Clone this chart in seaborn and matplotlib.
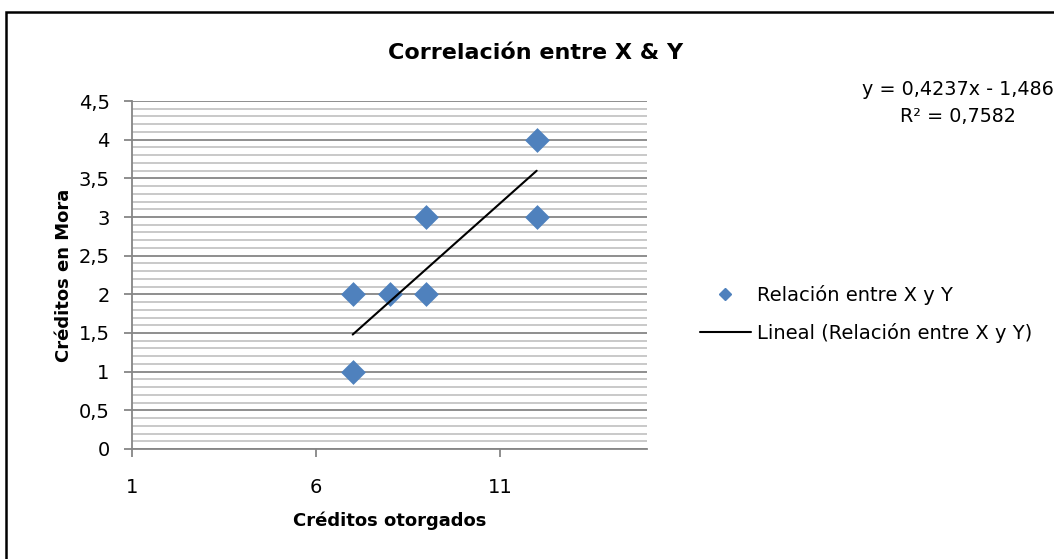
import matplotlib
matplotlib.use("Agg")
import matplotlib.pyplot as plt
from matplotlib.lines import Line2D
from matplotlib.patches import Rectangle
from matplotlib.ticker import MultipleLocator, FuncFormatter
import numpy as np
import pandas as pd
import seaborn as sns

# Data
creditos_otorgados = [7, 7, 8, 9, 9, 12, 12]
creditos_en_mora = [1, 2, 2, 2, 3, 3, 4]
trend_slope = 0.4237
trend_intercept = -1.486
r_squared = 0.7582

serie_label = "Relación entre X y Y"
trend_label = "Lineal (Relación entre X y Y)"

sns.set_theme(style="white")
plt.rcParams["font.family"] = ["DejaVu Sans"]
plt.rcParams["text.color"] = "black"
plt.rcParams["axes.labelcolor"] = "black"
plt.rcParams["xtick.color"] = "black"
plt.rcParams["ytick.color"] = "black"

df = pd.DataFrame({"x": creditos_otorgados, "y": creditos_en_mora})

fig = plt.figure(figsize=(10.54, 5.59), dpi=100)
ax = fig.add_axes([0.1252, 0.1968, 0.4887, 0.6225])

blue = "#4F81BD"
major_grid = "#868686"
minor_grid = "#C0C0C0"

ax.set_xlim(1, 15)
ax.set_ylim(0, 4.5)
ax.yaxis.set_major_locator(MultipleLocator(0.5))
ax.yaxis.set_minor_locator(MultipleLocator(0.1))
ax.set_xticks([1, 6, 11])

ax.grid(which="minor", axis="y", color=minor_grid, linewidth=1.2, zorder=0)
ax.grid(which="major", axis="y", color=major_grid, linewidth=1.3, zorder=0)
ax.grid(which="both", axis="x", visible=False)
ax.set_axisbelow(True)

sns.scatterplot(data=df, x="x", y="y", ax=ax, marker="D", s=160,
                color=blue, edgecolor=blue, linewidth=0, zorder=3, legend=False)

# Linear trendline over the data range
xt = np.array([min(creditos_otorgados), max(creditos_otorgados)])
ax.plot(xt, trend_slope * xt + trend_intercept, color="black", linewidth=1.5, zorder=4)

for side in ["top", "right"]:
    ax.spines[side].set_visible(False)
for side in ["left", "bottom"]:
    ax.spines[side].set_color(major_grid)
    ax.spines[side].set_linewidth(1.3)

comma = FuncFormatter(lambda v, p: (f"{v:g}").replace(".", ","))
ax.yaxis.set_major_formatter(comma)
ax.xaxis.set_major_formatter(comma)
ax.tick_params(axis="y", which="major", left=True, length=6, width=1.3,
               color=major_grid, labelcolor="black", labelsize=14, pad=10)
ax.tick_params(axis="y", which="minor", left=False)
ax.tick_params(axis="x", which="major", bottom=True, length=6, width=1.3,
               color=major_grid, labelcolor="black", labelsize=14, pad=15)

ax.set_xlabel("Créditos otorgados", fontsize=13, fontweight="bold", labelpad=10)
ax.set_ylabel("Créditos en Mora", fontsize=13, fontweight="bold", labelpad=4)

fig.text(536 / 1054, 1 - 53 / 559, "Correlación entre X & Y", ha="center",
         va="center", fontsize=16, fontweight="bold")

eq_text = f"y = {trend_slope:.4f}x - {abs(trend_intercept):.3f}".replace(".", ",") + \
    "\n" + f"R² = {r_squared:.4f}".replace(".", ",")
fig.text(958 / 1054, 1 - 103 / 559, eq_text, ha="center", va="center",
         multialignment="center", fontsize=13.8, linespacing=1.55)

handles = [
    Line2D([], [], marker="D", linestyle="none", color=blue, markersize=6.5),
    Line2D([], [], color="black", linewidth=1.5),
]
fig.legend(handles, [serie_label, trend_label], loc="center left",
           bbox_to_anchor=(700 / 1054, 1 - 314 / 559), frameon=False,
           fontsize=14, handlelength=2.6, handletextpad=0.35, labelspacing=0.95,
           borderpad=0, borderaxespad=0)

# Chart frame
fig.patches.append(Rectangle((6 / 1054, -0.05), 1.1, 1 - 12 / 559 + 0.05,
                             transform=fig.transFigure, fill=False,
                             edgecolor="black", linewidth=1.8))

fig.savefig("out.png", dpi=100)
